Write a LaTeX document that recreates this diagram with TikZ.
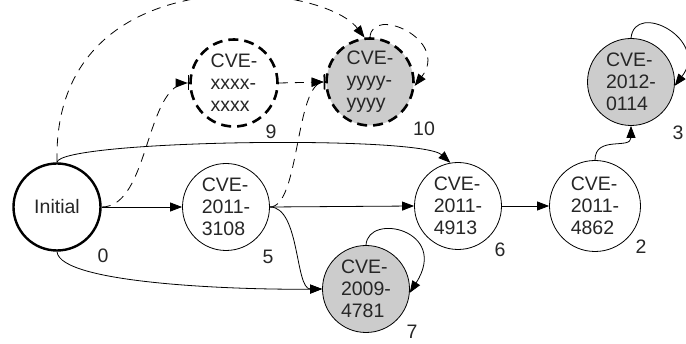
\documentclass[tikz,border=0pt]{standalone}
\usepackage{fontspec}
\setmainfont{Liberation Sans}
\usetikzlibrary{arrows.meta}
\begin{document}
\begin{tikzpicture}[x=1pt,y=-1pt,
  font=\fontsize{19.5}{22}\selectfont,
  state/.style={circle,draw,line width=0.8pt,minimum size=87pt,inner sep=0pt,align=left,text=black!85},
  gstate/.style={state,fill=black!20},
  hypo/.style={line width=2.6pt,dash pattern=on 10pt off 6pt},
  edge/.style={line width=0.8pt,-{Triangle[length=12pt,width=9pt]}},
  dedge/.style={edge,dash pattern=on 9pt off 7pt},
  barend/.style={-{Triangle[length=12pt,width=9pt,sep=0pt]Bar[width=15pt,line width=1.6pt]}},
  num/.style={inner sep=0pt,text=black!85}
]
\useasboundingbox (0,0) rectangle (686,344);
\node[state,line width=2.4pt] (init) at (57,207) {Initial};
\node[state] (n5) at (226,207) {CVE-\\2011-\\3108};
\node[state] (n6) at (458,206) {CVE-\\2011-\\4913};
\node[state,minimum size=91pt] (n2) at (595,206) {CVE-\\2011-\\4862};
\node[gstate] (n3) at (631,82) {CVE-\\2012-\\0114};
\node[gstate] (n7) at (366,289) {CVE-\\2009-\\4781};
\node[state,hypo,fill=white] (n9) at (234,83) {CVE-\\xxxx-\\xxxx};
\node[gstate,hypo] (n10) at (370,82) {CVE-\\yyyy-\\yyyy};

\node[num] (l0) at (103,256) {0};
\node[num] (l5) at (268,257) {5};
\node[num] (l6) at (500,250) {6};
\node[num] (l2) at (641,247) {2};
\node[num] (l3) at (678,133) {3};
\node[num] (l7) at (412,332) {7};
\node[num] (l9) at (271,132) {9};
\node[num] (l10) at (424,129) {10};

\draw[edge] (init.east) -- (n5.west);
\draw[edge] (n5.east) -- (n6.west);
\draw[edge] (n6.east) -- (n2.west);
\draw[edge] (init.north) .. controls (60,140) and (420,135) .. (n6.100);
\draw[edge] (init.south) .. controls (60,285) and (250,290) .. (n7.west);
\draw[edge] (n5.east) .. controls (300,207) and (295,289) .. (n7.west);
\draw[edge] (n2.north) .. controls (595,135) and (631,150) .. (n3.south);
\draw[edge] (n7.north) .. controls (368,212) and (450,230) .. (n7.-5);
\draw[edge] (n3.north) .. controls (635,0) and (710,40) .. (n3.-5);
\draw[dedge] (n10.north) .. controls (372,5) and (450,40) .. (n10.-5);
\draw[dedge] (init.north) .. controls (52,-45) and (320,-20) .. (n10.97);
\draw[dedge,barend] (init.east) .. controls (150,207) and (145,83) .. (n9.west);
\draw[dedge,barend] (n9.east) -- (n10.west);
\draw[dedge,barend] (n5.east) .. controls (300,207) and (295,82) .. (n10.west);
\end{tikzpicture}
\end{document}
